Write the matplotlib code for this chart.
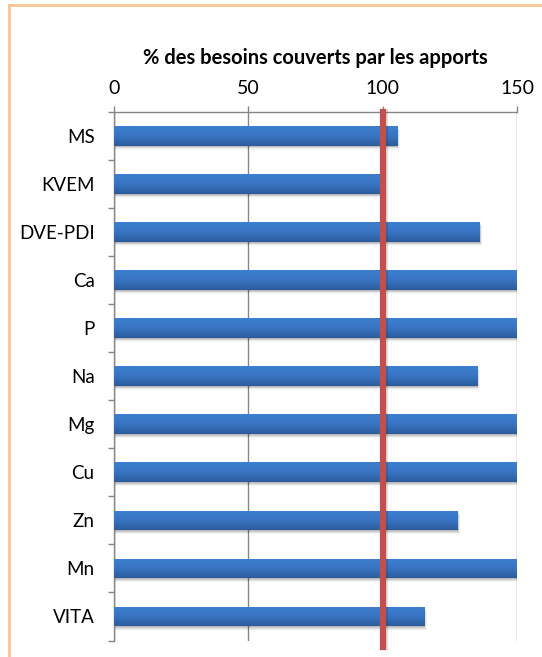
import numpy as np
import matplotlib.pyplot as plt
from matplotlib.patches import Rectangle

# Coverage of requirements by the ration (%), bars above 150 are cut at the axis limit
nutrients = ['MS', 'KVEM', 'DVE-PDI', 'Ca', 'P', 'Na', 'Mg', 'Cu', 'Zn', 'Mn', 'VITA']
coverage = [105.5, 99.6, 136.2, 150, 150, 135.2, 150, 150, 127.9, 150, 115.4]
x_ticks = [0, 50, 100, 150]
reference_level = 100

plt.rcParams['font.family'] = ['Lato', 'DejaVu Sans']

fig = plt.figure(figsize=(5.42, 6.57), dpi=100)
ax = fig.add_axes([114 / 542, 1 - 640.5 / 657, 403 / 542, 528.5 / 657])

ypos = np.arange(len(nutrients))
bar_h = 0.41
px_x = 150 / 403.0
px_y = len(nutrients) / 528.5

# soft drop shadow under each bar
for y, v in zip(ypos, coverage):
    for k, a in zip(range(1, 6), [0.10, 0.08, 0.06, 0.04, 0.03]):
        ax.add_patch(Rectangle((0, y - bar_h / 2 + k * px_y * 0.8), min(v, 150) + k * px_x * 0.5, bar_h,
                               facecolor='black', edgecolor='none', alpha=a, zorder=1))

# bars with a vertical gradient (lighter on top, darker below)
grad = np.linspace(0, 1, 64).reshape(-1, 1)
cmap = plt.matplotlib.colors.LinearSegmentedColormap.from_list(
    'bar', ['#3d7fd0', '#3874c2', '#2c5c9c'])
bars = ax.barh(ypos, coverage, height=bar_h, color='#3670b8', zorder=2)
for b in bars:
    x0, y0 = b.get_x(), b.get_y()
    w, h = b.get_width(), b.get_height()
    im = ax.imshow(grad, cmap=cmap, aspect='auto', extent=(x0, x0 + w, y0 + h, y0),
                   zorder=3, interpolation='bicubic')
    im.set_clip_path(b)

# reference line at 100 % with its shadow
ax.axvline(reference_level + 2.2 * px_x, ymin=-0.012, ymax=1, color='black', alpha=0.12,
           lw=4.5, zorder=3.5, clip_on=False)
ax.axvline(reference_level, ymin=-0.012, ymax=1, color='#c0504d', lw=4.5, zorder=4,
           clip_on=False)

ax.set_xlim(0, 150)
ax.set_ylim(len(nutrients) - 0.5, -0.5)
ax.set_xticks(x_ticks)
ax.xaxis.tick_top()
ax.xaxis.set_label_position('top')
ax.set_xlabel('% des besoins couverts par les apports', fontsize=14.5, fontweight='bold',
              labelpad=11)
ax.tick_params(axis='x', direction='out', length=4, width=1, color='#868686',
               labelsize=14, pad=7)

ax.set_yticks(ypos)
ax.set_yticklabels(nutrients)
ax.set_yticks(np.arange(len(nutrients) + 1) - 0.5, minor=True)
ax.tick_params(axis='y', which='major', length=0, labelsize=13.5, pad=14)
ax.tick_params(axis='y', which='minor', direction='out', length=4.5, width=1, color='#868686')

ax.grid(axis='x', color='#868686', lw=1)
ax.set_axisbelow(True)
for side in ['bottom', 'right']:
    ax.spines[side].set_visible(False)
for side in ['top', 'left']:
    ax.spines[side].set_color('#868686')
    ax.spines[side].set_linewidth(1)

# frame of the chart area (only top and left edges fall inside the image)
fig.add_artist(plt.Line2D([9 / 542, 1], [1 - 5 / 657, 1 - 5 / 657], color='#fac395', lw=2))
fig.add_artist(plt.Line2D([9 / 542, 9 / 542], [0, 1 - 5 / 657], color='#fac395', lw=2))

fig.savefig('out.png', dpi=100)
